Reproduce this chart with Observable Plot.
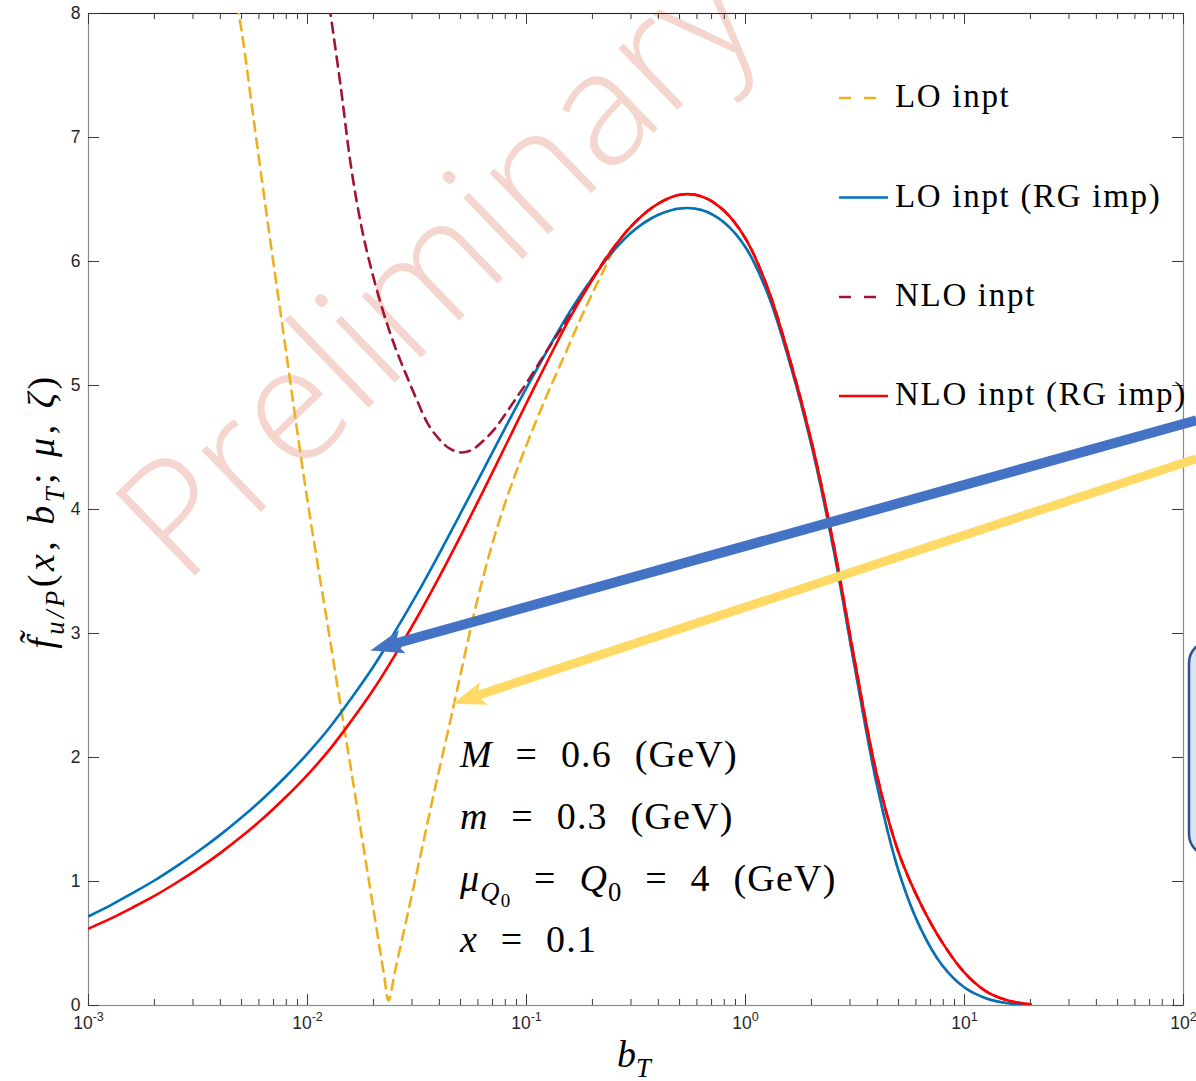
<!DOCTYPE html>
<html><head><meta charset="utf-8">
<script src="https://cdn.jsdelivr.net/npm/d3@7"></script>
<script src="https://cdn.jsdelivr.net/npm/@observablehq/plot@0.6"></script>
<style>
html,body{margin:0;padding:0;background:#fff}
#chart{width:1196px;height:1081px;overflow:hidden}
</style>
</head><body><div id="chart"></div>
<script>
// ---------- data ----------
// common b_T grid for the RG-improved curves
const bT = [1e-3,1.26e-3,1.58e-3,2.0e-3,2.51e-3,3.16e-3,3.98e-3,5.01e-3,6.31e-3,7.94e-3,
  1e-2,1.26e-2,1.58e-2,2.0e-2,2.51e-2,3.16e-2,3.98e-2,5.01e-2,6.31e-2,7.94e-2,
  0.1,0.126,0.158,0.2,0.251,0.316,0.398,0.501,0.631,0.794,
  1,1.26,1.58,2.0,2.51,3.16,3.98,5.01,6.31,7.94,
  10,12.6,15.8,20.0];
const loRG = [0.720,0.808,0.904,1.008,1.120,1.242,1.374,1.518,1.674,1.845,
  2.032,2.240,2.474,2.734,3.015,3.317,3.639,3.972,4.310,4.648,
  4.981,5.300,5.598,5.866,6.092,6.264,6.375,6.428,6.415,6.318,
  6.115,5.745,5.205,4.520,3.700,2.720,1.780,1.080,0.620,0.320,
  0.145,0.057,0.018,0.005];
const nloRG = [0.620,0.700,0.788,0.884,0.988,1.102,1.227,1.364,1.514,1.679,
  1.860,2.063,2.292,2.548,2.826,3.127,3.451,3.790,4.140,4.498,
  4.859,5.212,5.548,5.854,6.117,6.324,6.465,6.538,6.525,6.413,
  6.185,5.790,5.235,4.550,3.740,2.770,1.860,1.230,0.820,0.505,
  0.265,0.112,0.040,0.010];
// LO input (fixed scale)
const bTlo = [4.467e-3,5.012e-3,5.623e-3,6.310e-3,7.079e-3,7.943e-3,8.913e-3,0.01,0.01122,0.01259,
  0.01413,0.01585,0.01778,0.01995,0.02239,0.02344,0.02512,0.02818,0.03162,0.03548,
  0.03981,0.04467,0.05012,0.05623,0.06310,0.07079,0.07943,0.08913,0.1,0.1122,
  0.1259,0.1413,0.1585,0.1778,0.1995,0.2239,0.2512,
  0.316,0.398,0.501,0.631,0.794,1,1.26,1.58,2.0,2.51,3.16,3.98,5.01,6.31,7.94,10,12.6,15.8,20.0];
const lo = [8.35,7.85,7.20,6.55,5.92,5.30,4.67,4.07,3.52,2.98,
  2.43,1.89,1.34,0.79,0.24,0.04,0.28,0.68,1.08,1.49,
  1.89,2.28,2.68,3.08,3.44,3.76,4.04,4.29,4.52,4.74,
  4.95,5.15,5.35,5.55,5.74,5.92,6.092,
  6.264,6.375,6.428,6.415,6.318,6.115,5.745,5.205,4.520,3.700,2.720,1.780,1.080,0.620,0.320,0.145,0.057,0.018,0.005];
// NLO input (fixed scale)
const bTnlo = [0.01259,0.01413,0.01585,0.01778,0.01995,0.02239,0.02512,0.02818,0.03162,0.03548,
  0.03981,0.04467,0.05012,0.05623,0.06310,0.07079,0.07943,0.08913,0.1,0.1259,
  0.1585,0.1995,0.2512,
  0.316,0.398,0.501,0.631,0.794,1,1.26,1.58,2.0,2.51,3.16,3.98,5.01,6.31,7.94,10,12.6,15.8,20.0];
const nlo = [8.06,7.43,6.75,6.25,5.88,5.57,5.31,5.09,4.88,4.69,
  4.57,4.49,4.46,4.48,4.55,4.64,4.76,4.89,5.02,5.30,
  5.57,5.86,6.117,
  6.324,6.465,6.538,6.525,6.413,6.185,5.790,5.235,4.550,3.740,2.770,1.860,1.230,0.820,0.505,0.265,0.112,0.040,0.010];

const seriesNames  = ["LO inpt", "LO inpt (RG imp)", "NLO inpt", "NLO inpt (RG imp)"];
const seriesColors = ["#EDB120", "#0072BD", "#A2142F", "#FF0000"];
const seriesDashed = [true, false, true, false];

const xTicks = [1e-3, 1e-2, 1e-1, 1, 10, 100];
const xTickExp = ["-3", "-2", "-1", "0", "1", "2"];
const yTicks = [0, 1, 2, 3, 4, 5, 6, 7, 8];

// annotation arrows (data coordinates: start -> end of shaft)
const arrowStart = [{x: 114.6, y: 4.72}, {x: 114.6, y: 4.41}];
const arrowEnd   = [{x: 0.02522, y: 2.919}, {x: 0.05955, y: 2.50}];
const arrowColors = ["#4472C4", "#FFD966"];
const arrowWidths = [10, 9];

// ---------- build ----------
const W = 1196, H = 1081, mL = 88, mR = 13, mT = 13, mB = 76;
const innerW = W - mL - mR, innerH = H - mT - mB;
const rows = (xs, ys) => xs.map((x, i) => ({x, y: ys[i]}));
const seriesRows = [rows(bTlo, lo), rows(bT, loRG), rows(bTnlo, nlo), rows(bT, nloRG)];

const minorX = [];
for (const d of [1e-3, 1e-2, 1e-1, 1, 10]) for (let k = 2; k <= 9; k++) minorX.push(d * k);

const tickColor = "#3a3a3a";
const marks = [
  Plot.frame({stroke: "#8a8a8a", strokeWidth: 1.2}),
  Plot.ruleY([8], {stroke: "#262626", strokeWidth: 1.2}),
  Plot.ruleX(xTicks, {x: d => d, insetTop: innerH - 11, stroke: tickColor}),
  Plot.ruleX(xTicks, {x: d => d, insetBottom: innerH - 11, stroke: tickColor}),
  Plot.ruleX(minorX, {x: d => d, insetTop: innerH - 6, stroke: tickColor}),
  Plot.ruleX(minorX, {x: d => d, insetBottom: innerH - 6, stroke: tickColor}),
  Plot.ruleY(yTicks, {y: d => d, insetRight: innerW - 11, stroke: tickColor}),
  Plot.ruleY(yTicks, {y: d => d, insetLeft: innerW - 11, stroke: tickColor}),
  Plot.text(xTicks, {x: d => d, frameAnchor: "bottom", dy: 23, text: d => "10", fill: "#262626"}),
  Plot.text(yTicks, {y: d => d, frameAnchor: "left", dx: -8, textAnchor: "end", text: d => String(d), fill: "#262626"}),
];
seriesRows.forEach((r, i) => {
  marks.push(Plot.line(r, {
    x: "x", y: "y", stroke: seriesColors[i], strokeWidth: 2.6,
    strokeDasharray: seriesDashed[i] ? "10,7" : null,
    curve: "catmull-rom", clip: true
  }));
});
arrowStart.forEach((s, i) => {
  marks.push(Plot.link([0], {
    x1: () => s.x, y1: () => s.y, x2: () => arrowEnd[i].x, y2: () => arrowEnd[i].y,
    stroke: arrowColors[i], strokeWidth: arrowWidths[i]
  }));
});

const plot = Plot.plot({
  width: W, height: H,
  marginLeft: mL, marginRight: mR, marginTop: mT, marginBottom: mB,
  x: {type: "log", domain: [1e-3, 1e2], axis: null},
  y: {domain: [0, 8], axis: null},
  style: {fontFamily: "'Liberation Sans', Arial, sans-serif", fontSize: "17.5px", background: "#fff", overflow: "visible"},
  marks
});
document.getElementById("chart").appendChild(plot);

const svg = d3.select(plot);

// superscript exponents on x tick labels (first text mark)
const textGroups = svg.selectAll('g[aria-label="text"]').nodes();
d3.select(textGroups[0]).selectAll("text").each(function(d, i) {
  const t = d3.select(this);
  t.text(null);
  t.append("tspan").text("10");
  t.append("tspan").attr("dy", -8).attr("font-size", 12.5).text(xTickExp[i]);
});

// watermark behind everything
svg.insert("text", "g")
  .attr("transform", "translate(474,306) rotate(-44)")
  .attr("text-anchor", "middle")
  .attr("font-family", "'Open Sans', Lato, sans-serif")
  .attr("font-weight", 300)
  .attr("font-size", 160)
  .attr("fill", "#F4D6CF")
  .text("Preliminary");

// arrowheads
const defs = svg.append("defs");
const linkGroups = svg.selectAll('g[aria-label="link"]').nodes();
arrowColors.forEach((c, i) => {
  defs.append("marker").attr("id", "ah" + i)
    .attr("markerUnits", "userSpaceOnUse").attr("orient", "auto")
    .attr("viewBox", "-10 -20 50 40").attr("markerWidth", 50).attr("markerHeight", 40)
    .attr("refX", 4).attr("refY", 0)
    .append("path").attr("d", "M-3,-12 L30,0 L-3,12 L4,0 Z").attr("fill", c);
  d3.select(linkGroups[i]).selectAll("path").attr("marker-end", `url(#ah${i})`);
});

// rich text helper
function rich(sel, segs, size) {
  let cur = 0;
  segs.forEach(s => {
    const shift = s.sub === 1 ? 0.25 * size : s.sub === 2 ? 0.42 * size : 0;
    const fs = s.sub === 1 ? 0.7 * size : s.sub === 2 ? 0.5 * size : size;
    sel.append("tspan").attr("dy", shift - cur).attr("font-size", fs)
      .attr("font-style", s.it ? "italic" : "normal").text(s.t);
    cur = shift;
  });
}
const serif = "'Liberation Serif', 'DejaVu Serif', serif";

// legend
const legendY = [98, 197.5, 297, 396];
seriesNames.forEach((n, i) => {
  svg.append("line").attr("x1", 839).attr("x2", 888).attr("y1", legendY[i]).attr("y2", legendY[i])
    .attr("stroke", seriesColors[i]).attr("stroke-width", 2.6)
    .attr("stroke-dasharray", seriesDashed[i] ? "12,13" : null);
  svg.append("text").attr("x", 895).attr("y", legendY[i] + 9).attr("text-anchor", "start")
    .attr("font-family", serif).attr("font-size", 33).attr("letter-spacing", 1.7)
    .attr("fill", "#000").style("white-space", "pre").text(n);
});

// parameter annotations
const paramLines = [
  [{t: "M", it: 1}, {t: " = 0.6 (GeV)"}],
  [{t: "m", it: 1}, {t: " = 0.3 (GeV)"}],
  [{t: "μ", it: 1}, {t: "Q", it: 1, sub: 1}, {t: "0", sub: 2}, {t: " = "}, {t: "Q", it: 1}, {t: "0", sub: 1}, {t: " = 4 (GeV)"}],
  [{t: "x", it: 1}, {t: " = 0.1"}]
];
const paramBase = [767, 829, 891, 952];
paramLines.forEach((segs, i) => {
  const t = svg.append("text").attr("x", 460).attr("y", paramBase[i]).attr("text-anchor", "start")
    .attr("font-family", serif).attr("font-size", 38).attr("letter-spacing", 1.2)
    .attr("word-spacing", 12).attr("fill", "#000").style("white-space", "pre");
  rich(t, segs, 38);
});

// axis labels
const yl = svg.append("text").attr("transform", "translate(54,511) rotate(-90)")
  .attr("text-anchor", "middle").attr("font-family", serif).attr("font-size", 38)
  .attr("letter-spacing", 3.5).attr("fill", "#000").style("white-space", "pre");
rich(yl, [{t: "f\u0303", it: 1}, {t: "u/P", it: 1, sub: 1}, {t: "("}, {t: "x", it: 1}, {t: ", "},
  {t: "b", it: 1}, {t: "T", it: 1, sub: 1}, {t: "; "}, {t: "μ", it: 1}, {t: ", "}, {t: "ζ", it: 1}, {t: ")"}], 38);
const xl = svg.append("text").attr("x", 634).attr("y", 1067)
  .attr("text-anchor", "middle").attr("font-family", serif).attr("font-size", 38).attr("fill", "#000");
rich(xl, [{t: "b", it: 1}, {t: "T", it: 1, sub: 1}], 38);

// partially visible call-out box at right edge
svg.append("rect").attr("x", 1189).attr("y", 641).attr("width", 60).attr("height", 215)
  .attr("rx", 22).attr("fill", "#DAE3F3").attr("stroke", "#2F528F").attr("stroke-width", 2.5);
</script>
</body></html>
